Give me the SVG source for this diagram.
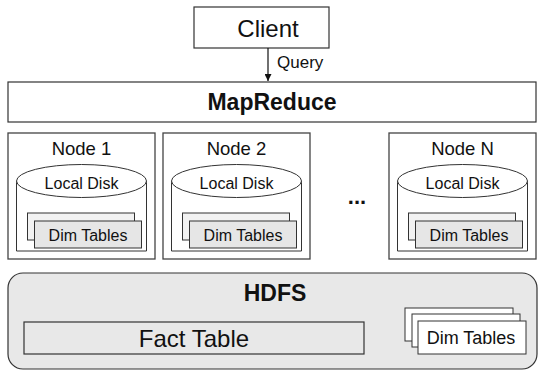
<svg xmlns="http://www.w3.org/2000/svg" width="540" height="371" viewBox="0 0 540 371">
<defs>
<style>
text{font-family:"Liberation Sans",Arial,sans-serif;fill:#111;text-anchor:middle}
.box{fill:#fff;stroke:#333;stroke-width:1.2}
.node{fill:#fff;stroke:#444;stroke-width:1.3}
.cyl{fill:#fff;stroke:#333;stroke-width:1}
.back{fill:#f2f2f2;stroke:#333;stroke-width:1}
.front{fill:#e6e6e6;stroke:#333;stroke-width:1}
.wback{fill:#fff;stroke:#333;stroke-width:1}
.gray{fill:#e8e8e8;stroke:#333;stroke-width:1.2}
.conn{stroke:#111;stroke-width:1.2;fill:none}
</style>
<marker id="arr" viewBox="0 0 10 10" refX="10" refY="5" markerWidth="7" markerHeight="7" orient="auto" markerUnits="userSpaceOnUse">
<path d="M0,0 L10,5 L0,10 z" fill="#111"/>
</marker>
<g id="disk">
<path class="cyl" d="M-65,0 L-65,70 L65,70 L65,0"/>
<ellipse class="cyl" cx="0" cy="0" rx="65" ry="16.5"/>
<text x="0" y="8" font-size="16">Local Disk</text>
<rect class="back" x="-54" y="32" width="107" height="27"/>
<rect class="front" x="-47" y="40" width="107" height="27"/>
<text x="6.5" y="60" font-size="16">Dim Tables</text>
</g>
</defs>

<g id="client">
<rect class="box" x="194" y="7" width="135" height="41"/>
<text x="268" y="37" font-size="24">Client</text>
</g>

<g id="mapreduce">
<rect class="box" x="8" y="82" width="528" height="40"/>
<text x="272" y="110" font-size="23" font-weight="bold">MapReduce</text>
</g>

<g id="node1">
<rect class="node" x="8" y="133" width="147" height="126"/>
<text x="81.5" y="155" font-size="18.5">Node 1</text>
<use href="#disk" x="81.5" y="181"/>
</g>

<g id="node2">
<rect class="node" x="163" y="133" width="147" height="126"/>
<text x="236.5" y="155" font-size="18.5">Node 2</text>
<use href="#disk" x="236.5" y="181"/>
</g>

<g id="ellipsis">
<text x="357" y="204" font-size="22" font-weight="bold">...</text>
</g>

<g id="nodeN">
<rect class="node" x="389" y="133" width="147" height="126"/>
<text x="462.5" y="155" font-size="18.5">Node N</text>
<use href="#disk" x="462.5" y="181"/>
</g>

<g id="hdfs">
<rect class="gray" x="8" y="273" width="529" height="96" rx="15" ry="15"/>
<text x="275" y="301" font-size="23" font-weight="bold">HDFS</text>
<rect class="gray" x="24" y="322" width="340" height="32"/>
<text x="194" y="347" font-size="24">Fact Table</text>
<rect class="wback" x="405" y="308" width="108" height="33"/>
<rect class="wback" x="412" y="314" width="108" height="33"/>
<rect class="wback" x="418" y="321" width="108" height="33"/>
<text x="471" y="344" font-size="18">Dim Tables</text>
</g>

<g id="connectors">
<line class="conn" x1="268" y1="48" x2="268" y2="81" marker-end="url(#arr)"/>
<text x="277" y="68" font-size="17" style="text-anchor:start">Query</text>
</g>
</svg>
